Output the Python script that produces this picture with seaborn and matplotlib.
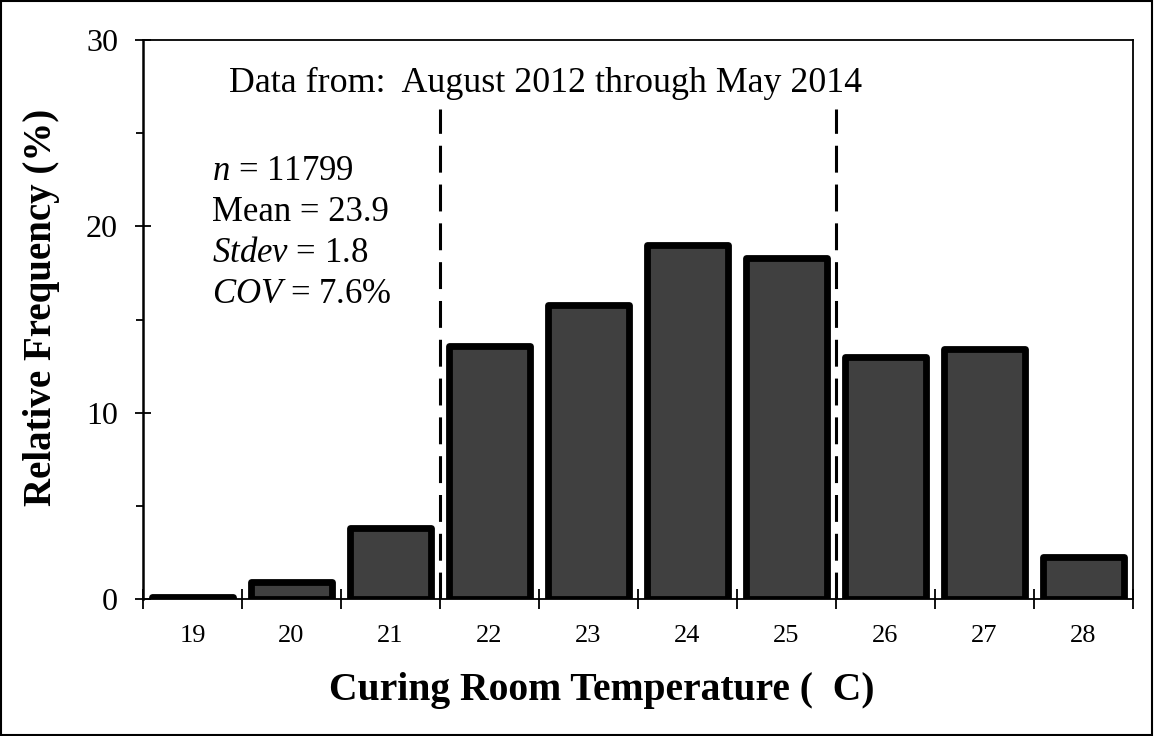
import matplotlib
matplotlib.use("Agg")
import matplotlib.pyplot as plt
import seaborn as sns
import pandas as pd
from matplotlib.patches import Rectangle
from matplotlib.ticker import MultipleLocator, FixedLocator

temperatures = ["19", "20", "21", "22", "23", "24", "25", "26", "27", "28"]
rel_freq = [0.1, 0.9, 3.8, 13.6, 15.8, 19.0, 18.3, 13.0, 13.4, 2.25]
limit_lines = [21.5, 25.5]
stats_lines = [r"$\it{n}$ = 11799", "Mean = 23.9", r"$\it{Stdev}$ = 1.8", r"$\it{COV}$ = 7.6%"]
period_text = "Data from:  August 2012 through May 2014"

sns.set_theme(style="white")
plt.rcParams["font.family"] = ["Liberation Serif", "DejaVu Serif"]
plt.rcParams["mathtext.fontset"] = "custom"
plt.rcParams["mathtext.it"] = "Liberation Serif:italic"
plt.rcParams["mathtext.rm"] = "Liberation Serif"
plt.rcParams["text.color"] = "black"
plt.rcParams["axes.labelcolor"] = "black"
plt.rcParams["xtick.color"] = "black"
plt.rcParams["ytick.color"] = "black"

df = pd.DataFrame({"temp": temperatures, "freq": rel_freq})

fig = plt.figure(figsize=(11.54, 7.36), dpi=100)
ax = fig.add_axes([143/1154, 1-599/736, (1133-143)/1154, (599-40)/736])

sns.barplot(data=df, x="temp", y="freq", color="#404040", saturation=1,
            width=0.81, edgecolor="black", linewidth=4.9, ax=ax)
for p in ax.patches:
    p.set_joinstyle("round")
    p.set_facecolor("#404040")

first = float(temperatures[0])
for v in limit_lines:
    ax.plot([v - first, v - first], [0, 26.3], color="black", lw=2.2,
            dashes=[8.8, 3.9], zorder=1)

ax.set_xlim(-0.5, 9.5)
ax.set_ylim(0, 30)
ax.yaxis.set_major_locator(MultipleLocator(10))
ax.yaxis.set_minor_locator(MultipleLocator(5))
ax.xaxis.set_minor_locator(FixedLocator([i - 0.5 for i in range(len(temperatures) + 1)]))

ax.tick_params(axis="x", which="major", length=0, labelsize=19, pad=19, colors="black")
ax.tick_params(axis="x", which="minor", direction="inout", length=14, width=1.3, bottom=True, color="black")
ax.tick_params(axis="y", which="major", direction="inout", length=12, width=1.3, left=True,
               labelsize=23, pad=12, colors="black")
ax.tick_params(axis="y", which="minor", direction="out", length=5, width=1.3, left=True, color="black")

for side, sp in ax.spines.items():
    sp.set_visible(True)
    sp.set_color("black")
    sp.set_linewidth(1.3)
ax.spines["left"].set_linewidth(1.8)

ax.set_xlabel("Curing Room Temperature (  C)", fontsize=28.5, fontweight="bold")
ax.set_ylabel("Relative Frequency (%)", fontsize=28, fontweight="bold")
ax.xaxis.set_label_coords(0.4636, -0.131)
ax.yaxis.set_label_coords(-0.084, 0.522)

ax.text(0.369, 27.21, period_text, fontsize=25.8, ha="left", va="baseline")
for i, s in enumerate(stats_lines):
    ax.text(0.197, 22.49 - i * 2.2, s, fontsize=25, ha="left", va="baseline")

fig.patches.append(Rectangle((0.001, 0.002), 0.997, 0.996, transform=fig.transFigure,
                             fill=False, edgecolor="black", linewidth=1.5))

fig.savefig("out.png", dpi=100)
